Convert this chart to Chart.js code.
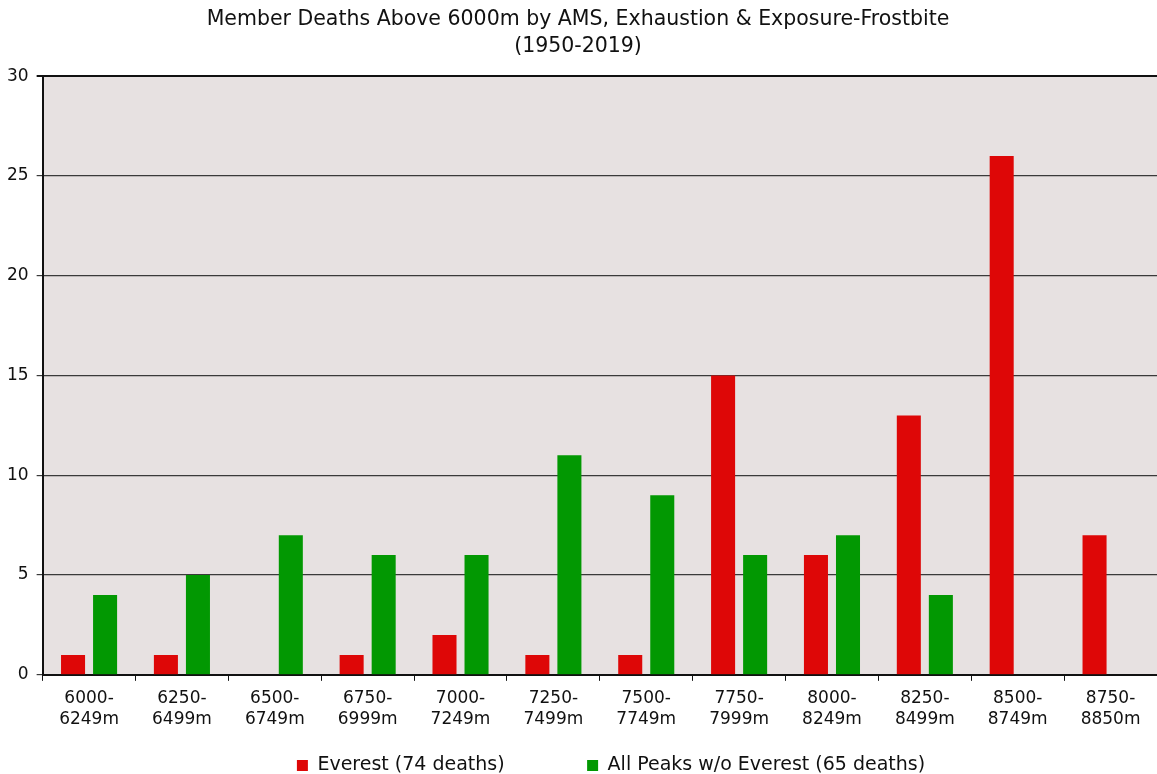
<!DOCTYPE html>
<html>
<head>
<meta charset="utf-8">
<script src="https://cdn.jsdelivr.net/npm/chart.js@4"></script>
<style>
  html, body { margin: 0; padding: 0; background: #fff; }
  #wrap { width: 1157px; height: 774px; }
</style>
</head>
<body>
<div id="wrap"><canvas id="myChart"></canvas></div>
<script>
const categories = [
    ["6000-", "6249m"], ["6250-", "6499m"], ["6500-", "6749m"], ["6750-", "6999m"],
    ["7000-", "7249m"], ["7250-", "7499m"], ["7500-", "7749m"], ["7750-", "7999m"],
    ["8000-", "8249m"], ["8250-", "8499m"], ["8500-", "8749m"], ["8750-", "8850m"]
];
const everest = [1, 1, 0, 1, 2, 1, 1, 15, 6, 13, 26, 7];
const otherPeaks = [4, 5, 7, 6, 6, 11, 9, 6, 7, 4, 0, 0];
const seriesLabels = ["Everest (74 deaths)", "All Peaks w/o Everest (65 deaths)"];
const titleLines = ["Member Deaths Above 6000m by AMS, Exhaustion & Exposure-Frostbite", "(1950-2019)"];

const FONT = "'DejaVu Sans', Verdana, sans-serif";

// shade the plot area
const plotBackground = {
    id: "plotBackground",
    beforeDraw(chart) {
        const { ctx, chartArea } = chart;
        ctx.save();
        ctx.fillStyle = "#e7e1e1";
        ctx.fillRect(chartArea.left, chartArea.top, chartArea.right - chartArea.left, chartArea.bottom - chartArea.top);
        ctx.restore();
    }
};

// nudge the legend a bit right and down, like the original
const legendNudge = {
    id: "legendNudge",
    afterLayout(chart) {
        const lg = chart.legend;
        if (!lg) return;
        lg.left += 33;
        lg.right += 33;
        lg.top += 9;
        lg.bottom += 9;
    }
};

const ctx = document.getElementById("myChart").getContext("2d");
const myChart = new Chart(ctx, {
    type: "bar",
    data: {
        labels: categories,
        datasets: [{
            label: seriesLabels[0],
            data: everest,
            backgroundColor: "#de0707",
            borderWidth: 0,
            categoryPercentage: 0.69,
            barPercentage: 0.75
        }, {
            label: seriesLabels[1],
            data: otherPeaks,
            backgroundColor: "#029802",
            borderWidth: 0,
            categoryPercentage: 0.69,
            barPercentage: 0.75
        }]
    },
    options: {
        responsive: true,
        maintainAspectRatio: false,
        animation: false,
        layout: { padding: { left: -1, right: 0, top: 6, bottom: -2 } },
        plugins: {
            title: {
                display: true,
                text: titleLines,
                color: "#111",
                font: { family: FONT, size: 20.5, weight: "normal", lineHeight: 1.32 },
                padding: { top: 0, bottom: 16 }
            },
            legend: {
                position: "bottom",
                labels: {
                    color: "#111",
                    font: { family: FONT, size: 19 },
                    boxWidth: 11,
                    boxHeight: 11,
                    padding: 10,
                    generateLabels(chart) {
                        const items = Chart.defaults.plugins.legend.labels.generateLabels(chart);
                        // widen the gap after the first entry
                        items[0].text = items[0].text + "\u00a0".repeat(12);
                        return items;
                    }
                }
            },
            tooltip: { enabled: false }
        },
        scales: {
            x: {
                grid: {
                    display: true,
                    drawOnChartArea: false,
                    drawTicks: true,
                    tickLength: 6,
                    color: "#111",
                    offset: true
                },
                border: { color: "#111", width: 2 },
                ticks: {
                    color: "#111",
                    font: { family: FONT, size: 17, lineHeight: 1.24 },
                    maxRotation: 0,
                    autoSkip: false,
                    padding: 7
                }
            },
            y: {
                min: 0,
                max: 30,
                ticks: {
                    stepSize: 5,
                    color: "#111",
                    font: { family: FONT, size: 17 },
                    padding: 8
                },
                grid: {
                    color: (c) => (c.tick && c.tick.value === 30 ? "#111" : "#3a3a3a"),
                    lineWidth: (c) => (c.tick && c.tick.value === 30 ? 2 : 1.2),
                    tickLength: 6,
                    drawTicks: true
                },
                border: { color: "#111", width: 2 }
            }
        }
    },
    plugins: [plotBackground, legendNudge]
});
</script>
</body>
</html>
